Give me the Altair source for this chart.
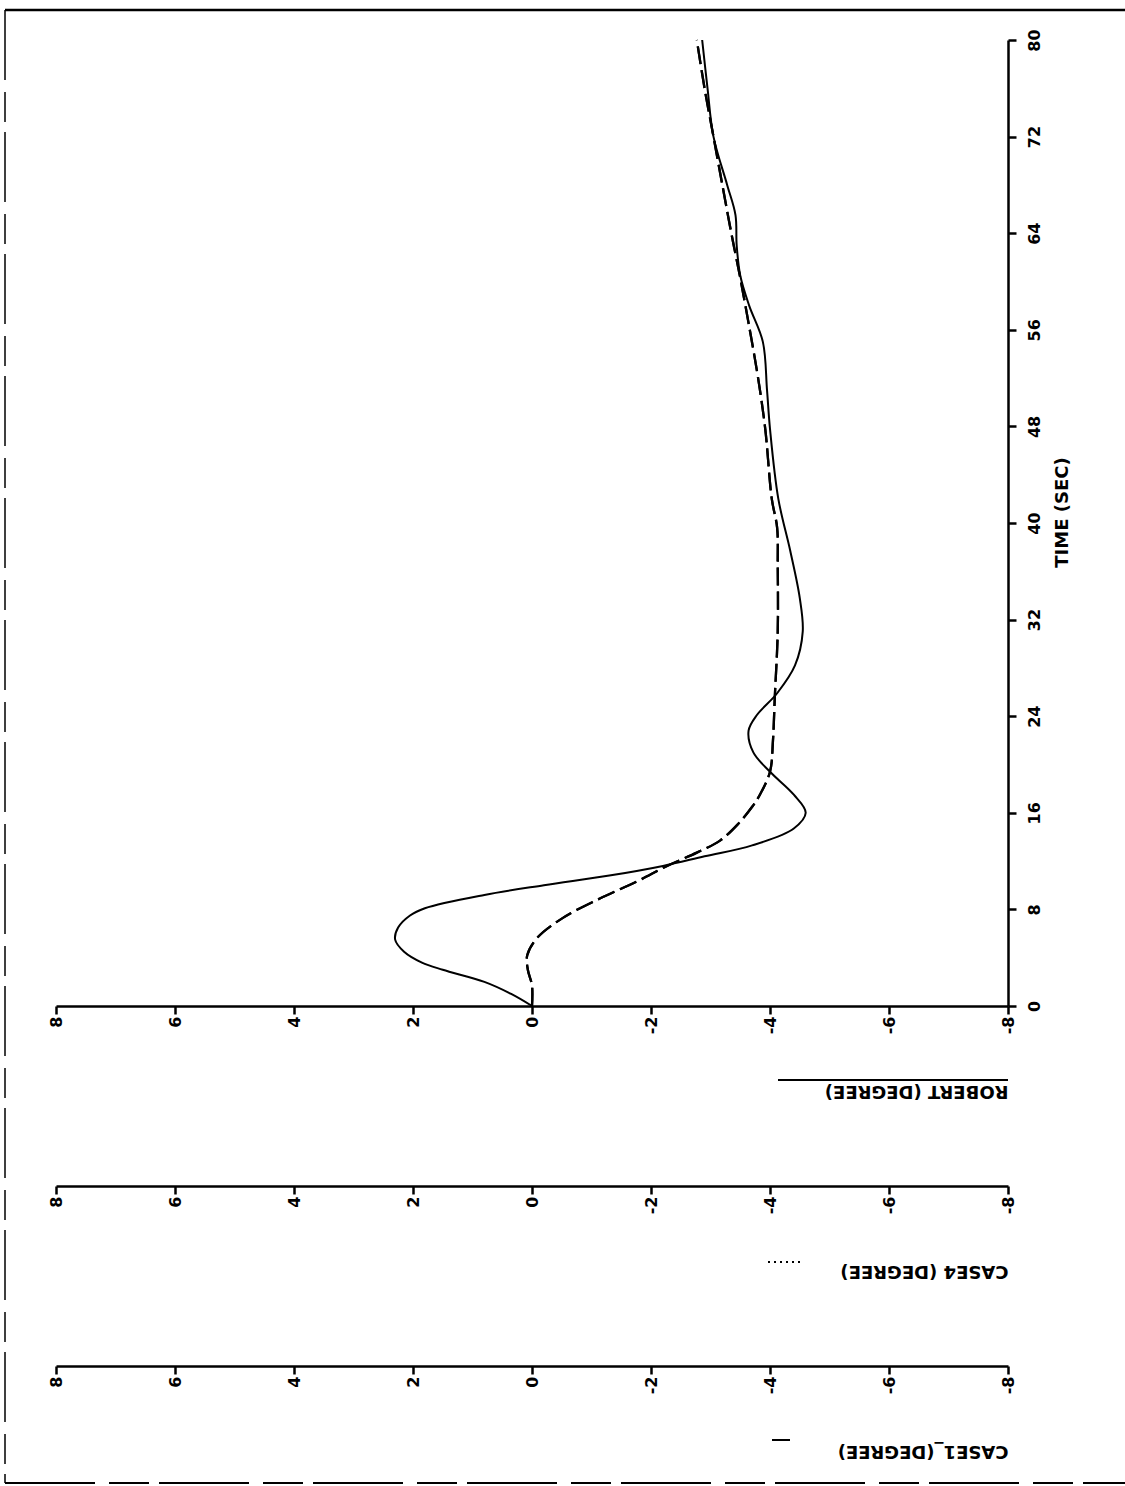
import altair as alt
import pandas as pd

# Roll angle histories, time in seconds, angles in degrees
time_robert = [0, 1, 2, 3, 3.6, 4.5, 5.5, 6.5, 7.5, 8.1, 9.2, 10, 10.8, 11.6, 12.4,
               13.3, 14.7, 16, 17.5, 19.4, 21, 22.8, 24.1, 25.9, 28.2, 31, 33.8,
               37.7, 42, 47.8, 51, 55, 58, 60.5, 63, 65.5, 68, 72, 76, 80]
robert_deg = [0, 0.35, 0.8, 1.5, 1.85, 2.15, 2.3, 2.25, 2.05, 1.8, 0.8, -0.2, -1.3, -2.2, -2.9,
              -3.7, -4.4, -4.6, -4.4, -4.0, -3.72, -3.64, -3.78, -4.12, -4.42, -4.55, -4.5,
              -4.34, -4.14, -4.0, -3.95, -3.88, -3.65, -3.5, -3.44, -3.42, -3.28, -3.05, -2.95, -2.86]

time_case = [0, 1.7, 3, 4.2, 5.6, 7.3, 8.9, 10.3, 11.6, 12.7, 13.7, 15, 16.5, 17.5, 19.4,
             22, 25.5, 31, 36.5, 39.6, 42, 47.8, 52, 56, 60.3, 64, 67.7, 72, 76, 80]
case4_deg = [0, 0.0, 0.07, 0.08, -0.08, -0.52, -1.14, -1.76, -2.27, -2.77, -3.16, -3.45, -3.7,
             -3.83, -4.0, -4.05, -4.08, -4.13, -4.13, -4.12, -4.03, -3.92, -3.8, -3.66, -3.5,
             -3.35, -3.21, -3.05, -2.9, -2.77]
case1_deg = [0, 0.0, 0.07, 0.08, -0.08, -0.52, -1.14, -1.76, -2.27, -2.77, -3.16, -3.45, -3.7,
             -3.83, -4.0, -4.05, -4.08, -4.13, -4.13, -4.12, -4.03, -3.92, -3.8, -3.66, -3.5,
             -3.35, -3.21, -3.05, -2.9, -2.77]

deg_ticks = [-8, -6, -4, -2, 0, 2, 4, 6, 8]
time_ticks = [0, 8, 16, 24, 32, 40, 48, 56, 64, 72, 80]

W, H = 952, 966
FONT = "DejaVu Sans"
AXIS_GAP = 180
TITLE_Y = 84

robert_df = pd.DataFrame({"t": time_robert, "deg": robert_deg})
case4_df = pd.DataFrame({"t": time_case, "deg": case4_deg})
case1_df = pd.DataFrame({"t": time_case, "deg": case1_deg})
one = pd.DataFrame({"k": [0]})

y_enc = alt.Y(
    "t:Q",
    scale=alt.Scale(domain=[0, 80], nice=False, zero=False),
    axis=alt.Axis(
        orient="right", values=time_ticks, grid=False,
        domainColor="black", domainWidth=2.5, tickColor="black", tickWidth=2.5, tickSize=8,
        labelAngle=270, labelAlign="center", labelBaseline="middle", labelPadding=18,
        labelFont=FONT, labelFontSize=16, labelFontWeight="bold", labelColor="black",
        labelOverlap=False, labelFlush=False,
        title="TIME (SEC)", titleAngle=270, titleAlign="center", titleBaseline="middle",
        titleX=54, titleY=472, titleFont=FONT, titleFontSize=18, titleFontWeight="bold",
        titleColor="black",
    ),
)


def deg_x(title, offset):
    return alt.X(
        "deg:Q",
        scale=alt.Scale(domain=[-8, 8], reverse=True, nice=False, zero=False),
        axis=alt.Axis(
            orient="bottom", offset=offset, values=deg_ticks, grid=False,
            labelExpr="'' + datum.value",
            domainColor="black", domainWidth=2.5, tickColor="black", tickWidth=2.5, tickSize=8,
            labelAngle=270, labelAlign="right", labelBaseline="middle", labelPadding=2,
            labelFont=FONT, labelFontSize=16, labelFontWeight="bold", labelColor="black",
            labelOverlap=False, labelFlush=False,
            title=title, titleAngle=180, titleAlign="left", titleBaseline="middle",
            titleX=W, titleY=TITLE_Y, titleFont=FONT, titleFontSize=18, titleFontWeight="bold",
            titleColor="black",
        ),
    )


robert_line = alt.Chart(robert_df).mark_line(
    color="black", strokeWidth=2, interpolate="catmull-rom"
).encode(x=deg_x("ROBERT (DEGREE)", 0), y=y_enc, order="t:Q")

case4_line = alt.Chart(case4_df).mark_line(
    color="black", strokeWidth=2.3, strokeDash=[18, 6], interpolate="catmull-rom"
).encode(x=deg_x("CASE4 (DEGREE)", AXIS_GAP), y=y_enc, order="t:Q")

case1_line = alt.Chart(case1_df).mark_line(
    color="black", strokeWidth=2.3, strokeDash=[18, 6], interpolate="catmull-rom"
).encode(x=deg_x("CASE1_(DEGREE)", 2 * AXIS_GAP), y=y_enc, order="t:Q")


def hrule(x1, x2, y, width=2.0, dash=None):
    kw = {"color": "black", "strokeWidth": width}
    if dash:
        kw["strokeDash"] = dash
    return alt.Chart(one).mark_rule(**kw).encode(
        x=alt.value(x1), x2=alt.value(x2), y=alt.value(y))


def vrule(x, y1, y2, width=2.0, dash=None):
    kw = {"color": "black", "strokeWidth": width}
    if dash:
        kw["strokeDash"] = dash
    return alt.Chart(one).mark_rule(**kw).encode(
        x=alt.value(x), y=alt.value(y1), y2=alt.value(y2))


# page frame
frame_top = hrule(-51, 1069, -30, 2.5)
frame_left = vrule(-51, -30, 1443, 1.5, [70, 12, 30, 10])
frame_bottom = hrule(-51, 1069, 1443, 2.0, [90, 14, 40, 10])

# line-style keys beside the axis titles
key_robert = hrule(722, W, H + TITLE_Y - 10, 2.0)
key_case4 = hrule(712, 748, H + AXIS_GAP + TITLE_Y - 8, 2.0, [2, 4])
key_case1 = hrule(716, 734, H + 2 * AXIS_GAP + TITLE_Y - 10, 2.0)

chart = alt.layer(
    robert_line, case4_line, case1_line,
    frame_top, frame_left, frame_bottom,
    key_robert, key_case4, key_case1,
).resolve_scale(x="independent").resolve_axis(x="independent").properties(
    width=W, height=H,
    padding={"left": 56, "top": 40, "right": 117, "bottom": 480},
    autosize=alt.AutoSizeParams(type="none"),
    background="white",
).configure_view(stroke=None)

chart.save("out.html", embed_options={"renderer": "svg", "actions": False})
